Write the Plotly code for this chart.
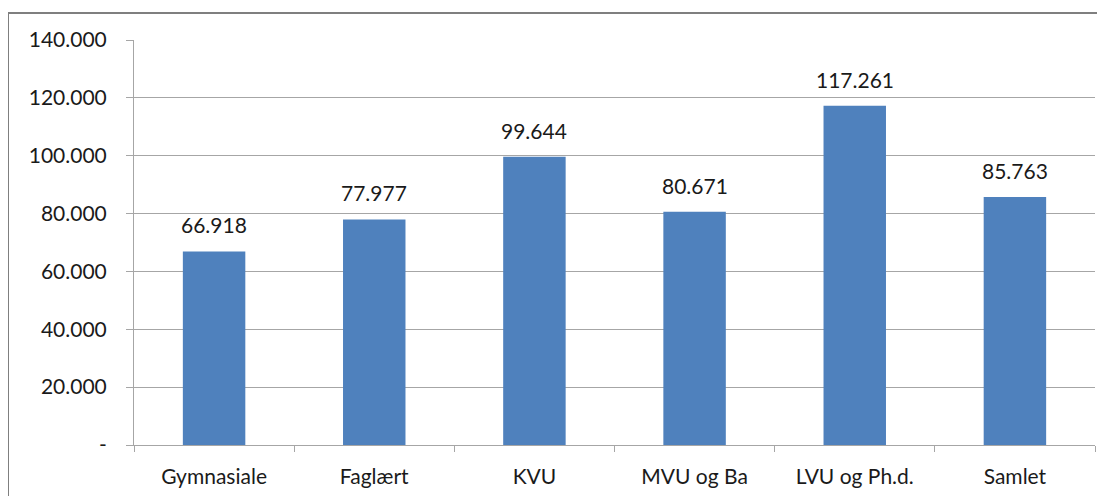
import plotly.graph_objects as go

categories = ["Gymnasiale", "Faglært", "KVU", "MVU og Ba", "LVU og Ph.d.", "Samlet"]
values = [66918, 77977, 99644, 80671, 117261, 85763]
tick_vals = [0, 20000, 40000, 60000, 80000, 100000, 120000, 140000]
tick_text = ["-", "20.000", "40.000", "60.000", "80.000", "100.000", "120.000", "140.000"]

def fmt(v):
    return f"{v:,}".replace(",", ".")

FONT = "Lato"
TXT = "#1a1a1a"
GRID = "#a6a6a6"

fig = go.Figure()
fig.add_trace(go.Bar(
    x=categories, y=values,
    marker=dict(color="#4F81BD", line=dict(width=0)),
    hoverinfo="skip",
))

for c, v in zip(categories, values):
    fig.add_annotation(x=c, y=v, text=fmt(v), showarrow=False,
                       yanchor="bottom", yshift=12,
                       font=dict(family=FONT, size=21, color=TXT))

# page has an 8px body offset
OFF = 8
W, H = 1105, 496
L, R, T, B = 134 - OFF, 18, 40 - OFF, 59
pw = W - L - R
ph = H - T - B

fig.update_layout(
    width=W, height=H,
    margin=dict(l=L, r=R, t=T, b=B),
    paper_bgcolor="white", plot_bgcolor="white",
    bargap=0.61,
    showlegend=False,
    font=dict(family=FONT, size=21, color=TXT),
    xaxis=dict(
        showline=True, linecolor=GRID, linewidth=1,
        ticks="outside", tickson="boundaries", ticklen=6, tickcolor=GRID,
        showgrid=False, ticklabelstandoff=13,
        tickfont=dict(family=FONT, size=21, color=TXT),
    ),
    yaxis=dict(
        range=[0, 140000],
        tickvals=tick_vals, ticktext=tick_text,
        showline=True, linecolor=GRID, linewidth=1,
        ticks="outside", ticklen=7, tickcolor=GRID,
        showgrid=True, gridcolor=GRID, gridwidth=1,
        zeroline=False, ticklabelstandoff=15,
        tickfont=dict(family=FONT, size=21, color=TXT),
    ),
    shapes=[dict(
        type="rect", xref="paper", yref="paper",
        x0=(8 - OFF - L) / pw, x1=(W + 10 - L) / pw,
        y0=-(B + 10) / ph, y1=(H - B - (13 - OFF)) / ph,
        line=dict(color="#7f7f7f", width=2), fillcolor="rgba(0,0,0,0)",
        layer="below",
    )],
)

fig.write_html("out.html")
